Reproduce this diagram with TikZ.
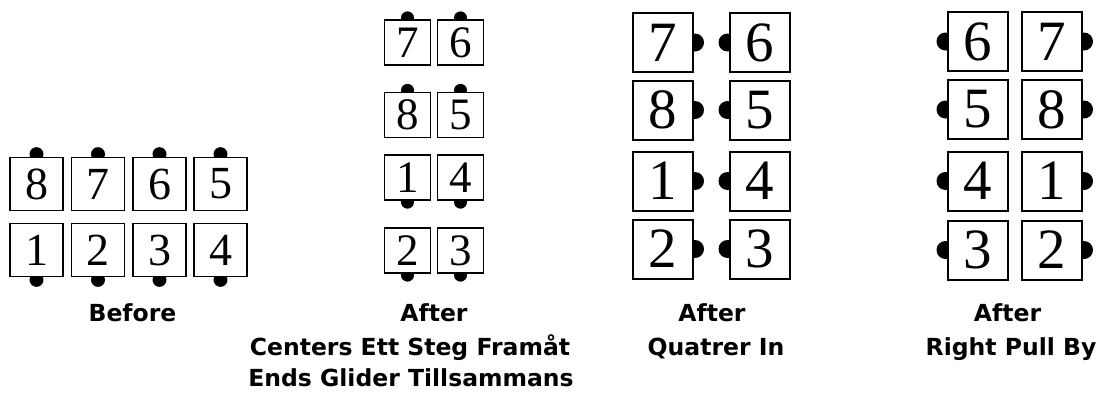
\documentclass[tikz,border=0pt]{standalone}
\usepackage{fontspec}
\newfontfamily\numfont{Liberation Serif}
\newfontfamily\labfont{DejaVu Sans}
\usetikzlibrary{backgrounds}
\begin{document}
\begin{tikzpicture}[x=1pt,y=-1pt,
  bxa/.style={draw, line width=1.7pt, fill=white, minimum width=53pt, minimum height=53pt, inner sep=0pt, font=\numfont\fontsize{46}{46}\selectfont},
  bxb/.style={draw, line width=1.3pt, fill=white, minimum width=46pt, minimum height=45pt, inner sep=0pt, font=\numfont\fontsize{45}{45}\selectfont},
  bxc/.style={draw, line width=2pt, fill=white, minimum width=60pt, minimum height=59pt, inner sep=0pt, font=\numfont\fontsize{57}{57}\selectfont},
  lab/.style={anchor=base, inner sep=0pt, font=\labfont\bfseries\fontsize{23.5}{23.5}\selectfont}
]
\useasboundingbox (0,0) rectangle (1098,399);
% Group 1: Before
\node[bxa] (a8) at (36.5,184) {8};
\node[bxa] (a7) at (98,184) {7};
\node[bxa] (a6) at (159.5,184) {6};
\node[bxa] (a5) at (220.5,184) {5};
\node[bxa] (a1) at (36.5,250) {1};
\node[bxa] (a2) at (98,250) {2};
\node[bxa] (a3) at (159.5,250) {3};
\node[bxa] (a4) at (220.5,250) {4};
% Group 2
\node[bxb] (b7) at (407.5,42.5) {7};
\node[bxb] (b6) at (460.5,42.5) {6};
\node[bxb] (b8) at (407.5,115) {8};
\node[bxb] (b5) at (460.5,115) {5};
\node[bxb] (b1) at (407.5,177.5) {1};
\node[bxb] (b4) at (460.5,177.5) {4};
\node[bxb] (b2) at (407.5,250.5) {2};
\node[bxb] (b3) at (460.5,250.5) {3};
% Group 3
\node[bxc] (c7) at (663,42.5) {7};
\node[bxc] (c6) at (759.5,42.5) {6};
\node[bxc] (c8) at (663,110) {8};
\node[bxc] (c5) at (759.5,110) {5};
\node[bxc] (c1) at (663,181) {1};
\node[bxc] (c4) at (759.5,181) {4};
\node[bxc] (c2) at (663,249) {2};
\node[bxc] (c3) at (759.5,249) {3};
% Group 4
\node[bxc] (d6) at (977.5,41.5) {6};
\node[bxc] (d7) at (1052,41.5) {7};
\node[bxc] (d5) at (977.5,109.5) {5};
\node[bxc] (d8) at (1052,109.5) {8};
\node[bxc] (d4) at (977.5,181) {4};
\node[bxc] (d1) at (1052,181) {1};
\node[bxc] (d3) at (977.5,250) {3};
\node[bxc] (d2) at (1052,250) {2};
% Dots
\begin{scope}[on background layer]
  \foreach \n in {a8,a7,a6,a5} \fill ([yshift=2.5pt]\n.north) circle (7pt);
  \foreach \n in {a1,a2,a3,a4} \fill ([yshift=-2.5pt]\n.south) circle (7pt);
  \foreach \n in {b7,b6,b8,b5} \fill ([yshift=1.5pt]\n.north) circle (6.5pt);
  \foreach \n in {b1,b4,b2,b3} \fill ([yshift=-1.5pt]\n.south) circle (6.5pt);
  \foreach \n in {c7,c8,c1,c2} \fill ([xshift=1pt]\n.east) circle (9pt);
  \foreach \n in {c6,c5,c4,c3} \fill ([xshift=-1pt]\n.west) circle (9pt);
  \foreach \n in {d6,d5,d4,d3} \fill ([xshift=-1pt]\n.west) circle (9pt);
  \foreach \n in {d7,d8,d1,d2} \fill ([xshift=1pt]\n.east) circle (9pt);
\end{scope}
% Labels
\node[lab] (l1) at (132.5,321) {Before};
\node[lab] (l2a) at (434,321) {After};
\node[lab] (l2b) at (410,355) {Centers Ett Steg Framåt};
\node[lab] (l2c) at (411,386) {Ends Glider Tillsammans};
\node[lab] (l3a) at (712,321) {After};
\node[lab] (l3b) at (716,355) {Quatrer In};
\node[lab] (l4a) at (1007.5,321) {After};
\node[lab] (l4b) at (1011,355) {Right Pull By};
\end{tikzpicture}
\end{document}
